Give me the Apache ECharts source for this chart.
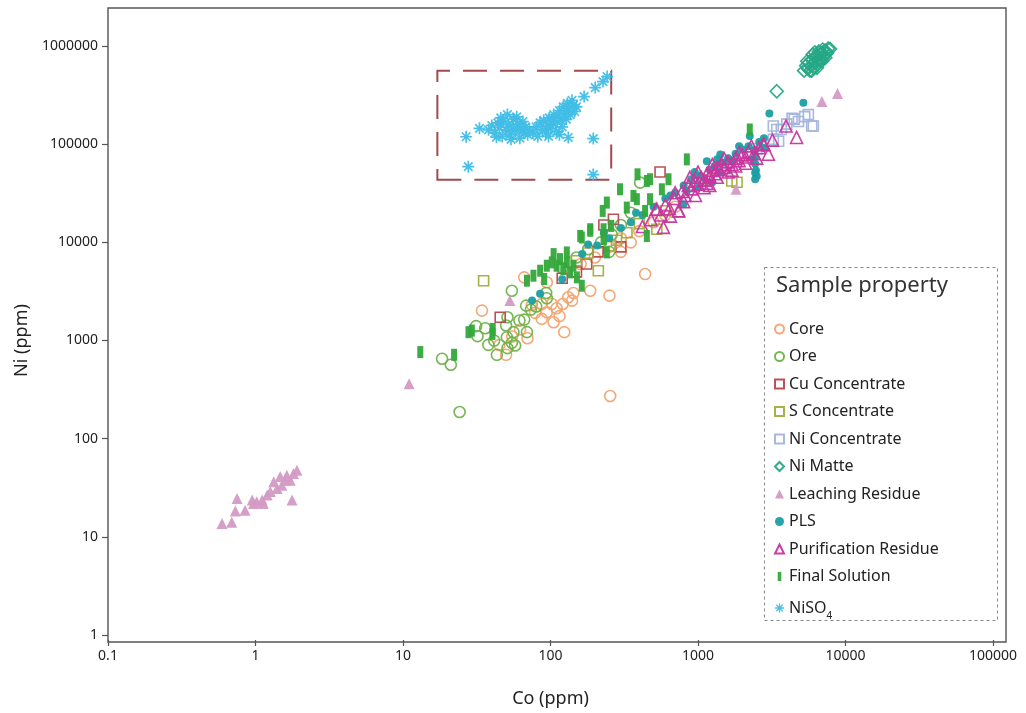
<!DOCTYPE html>
<html>
<head>
<meta charset="utf-8">
<script src="https://cdn.jsdelivr.net/npm/echarts@6/dist/echarts.min.js"></script>
<style>
  html, body { margin: 0; padding: 0; background: #fff; }
  #chart { width: 1026px; height: 713px; }
</style>
</head>
<body>
<div id="chart"></div>
<script>
// Co vs Ni (ppm) by sample property, both axes logarithmic
const xTicks = ['0.1', '1', '10', '100', '1000', '10000', '100000'];
const yTicks = ['1', '10', '100', '1000', '10000', '100000', '1000000'];

const seriesNames = ['Core', 'Ore', 'Cu Concentrate', 'S Concentrate', 'Ni Concentrate', 'Ni Matte',
  'Leaching Residue', 'PLS', 'Purification Residue', 'Final Solution', 'NiSO4'];

// [Co, Ni] pairs
const core = [
  [254, 272], [124, 1216], [105, 1535], [87.3, 1660], [69.8, 1056], [50, 715], [34.3, 2016], [78.7, 1910],
  [94.4, 1941], [110, 2133], [121, 2356], [132, 2756], [143, 3048], [115, 1771], [102, 2356], [186, 3213],
  [251, 2864], [438, 4751], [66.3, 4399], [94.4, 3918], [74.8, 2302], [62.2, 1294], [87.3, 2356], [140, 2547],
  [160, 6000], [200, 7000], [250, 9000], [300, 11000], [350, 10000], [400, 13000], [500, 16000], [600, 19000],
  [700, 23000], [300, 8000], [55, 1100], [45, 900]
];
const ore = [
  [24.2, 187], [18.4, 651], [21.1, 566], [32, 1107], [31.3, 1400], [37.9, 903], [43.3, 715], [41.5, 998],
  [50.6, 1081], [50, 1420], [51.1, 1727], [54.7, 946], [57.6, 889], [51.1, 836], [56.1, 1216], [61.6, 1596],
  [69.2, 1216], [66.3, 1633], [68.4, 2265], [54.7, 3213], [73.6, 2064], [94.4, 2691], [80, 2218], [93.5, 3048],
  [36.1, 1334], [405, 40600], [120, 5500], [150, 7000], [180, 8500], [220, 10000], [260, 12000], [300, 15000],
  [350, 20000], [250, 8000]
];
const cuConc = [
  [45.6, 1727], [176, 6010], [267, 17200], [553, 52000], [230, 15000], [300, 9000], [210, 8000], [150, 5000],
  [120, 4300]
];
const sConc = [
  [35.2, 4064], [211, 5140], [254, 9200], [526, 13600], [1694, 42200], [150, 6500], [180, 7800], [280, 10500],
  [330, 12500], [400, 15500], [600, 21000], [1170, 42900], [1840, 40900]
];
const niConc = [
  [6053, 153000], [5600, 200000], [4340, 183000], [3520, 107000], [3670, 141000], [3240, 153000],
  [5900, 153000], [5290, 191000], [4490, 180000], [3420, 141000], [3240, 112000], [1500, 60000],
  [2000, 75000], [1000, 45000], [2500, 90000], [4000, 160000], [4800, 170000]
];
const niMatte = [
  [5240, 561000], [5410, 631000], [5570, 588000], [5660, 677000], [5840, 631000], [5930, 726000],
  [6030, 661000], [6220, 761000], [6310, 692000], [6410, 797000], [6520, 726000], [6720, 816000],
  [6820, 743000], [6930, 855000], [7150, 797000], [7260, 896000], [7380, 835000], [7620, 939000],
  [6620, 677000], [6120, 602000], [5750, 561000], [7040, 761000], [7500, 855000], [7860, 933000],
  [5500, 700000], [6000, 820000], [6600, 880000], [5900, 560000], [6900, 700000], [7300, 760000],
  [6400, 600000], [7000, 920000], [6200, 860000],
  [8730, 1050000], [3420, 346000]
];
const leaching = [
  [0.593, 13.7], [0.69, 14.1], [0.75, 24.6], [0.73, 18.3], [0.85, 18.7], [0.95, 23.7], [1.02, 22.8],
  [1.11, 23.7], [1.2, 26.6], [1.26, 29], [1.33, 36.4], [1.4, 31.1], [1.51, 33.6], [1.59, 37.8], [1.63, 42.5],
  [1.72, 37.8], [1.77, 23.7], [1.91, 47.8], [1.81, 44.2], [1.47, 41.2], [1.13, 21.9], [0.97, 21.9],
  [11, 363], [53, 2550], [1810, 34700], [6920, 272000], [8830, 328000]
];
const pls = [
  [75, 2550], [85, 2990], [120, 4200], [164, 7590], [207, 9290], [250, 11000], [300, 14000], [350, 16000],
  [420, 19000], [500, 23000], [600, 28000], [700, 32000], [800, 38000], [900, 44000], [1000, 48000],
  [1100, 45000], [1200, 55000], [1300, 60000], [1400, 52000], [1500, 65000], [1600, 72000], [1800, 80000],
  [2000, 88000], [2200, 95000], [2440, 88000], [2440, 75000], [2440, 63000], [2470, 54000], [2500, 47000],
  [2440, 44000], [2600, 105000], [3048, 205000], [5180, 264000], [2800, 115000], [1700, 68000],
  [1000, 36000], [1250, 41000], [1416, 78700], [1148, 67000], [840, 33400], [796, 24400], [2244, 121000],
  [2780, 92000], [2360, 70000], [2440, 51000], [650, 30000], [950, 52000], [1350, 70000], [1900, 95000],
  [180, 9500], [230, 12500], [380, 20000]
];
const purification = [
  [420, 14500], [480, 17000], [520, 21700], [560, 19000], [600, 24000], [640, 22000], [690, 28000],
  [740, 21000], [780, 33000], [820, 30000], [860, 38000], [900, 35000], [950, 42000], [1000, 39000],
  [1050, 46000], [1100, 43000], [1150, 50000], [1200, 47000], [1250, 54000], [1300, 50000], [1350, 58000],
  [1400, 55000], [1450, 62000], [1500, 58000], [1600, 66000], [1700, 62000], [1800, 72000], [1900, 68000],
  [2000, 78000], [2100, 74000], [2200, 84000], [2400, 80000], [2600, 92000], [2800, 99000], [3000, 79000],
  [3950, 153000], [4660, 117000], [800, 26000], [1100, 36000], [1600, 52000], [650, 18500], [583, 14200],
  [526, 21700], [737, 20900], [2773, 99400],
  [880, 46000], [1000, 52000], [1150, 40000], [1250, 62000], [1350, 46000], [1500, 72000], [1700, 54000],
  [1900, 82000], [2100, 64000], [2300, 96000], [700, 32000], [960, 30000], [1200, 38000], [1800, 60000],
  [2500, 72000], [3200, 110000]
];
const finalSolution = [
  [13.1, 762], [22.2, 715], [27.8, 1216], [29.3, 1262], [40.6, 1312], [40.4, 1167], [69.2, 4064],
  [85.1, 5140], [94.4, 5780], [102, 6250], [110, 5780], [116, 6750], [122, 5340], [129, 6250], [136, 4940],
  [143, 5780], [151, 4400], [163, 3613], [90.6, 4230], [76.6, 4570], [159, 11600], [186, 13600], [229, 10800],
  [241, 7890], [105, 7590], [129, 7890], [163, 11200], [186, 13100], [229, 13600], [226, 20900], [258, 14700],
  [296, 34700], [241, 25400], [329, 22600], [389, 49300], [450, 42200], [473, 43900], [365, 29700],
  [385, 27500], [438, 20900], [473, 27500], [569, 34700], [631, 43900], [840, 70000], [450, 11600],
  [2244, 141000]
];
const niso4 = [
  [26.8, 119000], [27.7, 59000], [33, 145000],
  [38, 140000], [40, 155000], [42, 130000], [44, 165000], [45, 148000], [47, 120000], [48, 172000],
  [50, 140000], [52, 158000], [53, 125000], [55, 150000], [56, 180000], [58, 135000], [60, 160000],
  [62, 115000], [63, 145000], [65, 170000], [66, 130000], [68, 150000], [70, 125000], [72, 140000],
  [46, 185000], [54, 112000], [59, 190000], [43, 118000], [51, 200000],
  [76, 130000], [80, 150000], [82, 120000], [85, 165000], [88, 140000], [90, 175000], [93, 130000],
  [95, 155000], [98, 185000], [100, 145000], [103, 170000], [105, 200000], [108, 160000], [110, 135000],
  [112, 190000], [115, 220000], [118, 175000], [120, 150000], [122, 240000], [125, 205000], [128, 180000],
  [130, 260000], [133, 230000], [136, 200000], [140, 280000], [143, 250000], [146, 215000], [150, 240000],
  [97, 120000], [115, 125000],
  [132, 117000], [195, 114000], [195, 49000], [169, 305000], [201, 377000], [227, 434000], [242, 488000]
];
// outline of the NiSO4 group: [Co, Ni] corners
const niso4Box = [[17.1, 43500], [258, 560000]];

const colors = {
  core: '#f2a470', ore: '#6fb24a', cu: '#b8474c', s: '#a3ad3c', niConc: '#a4b4dc', matte: '#26a886',
  leach: '#d39ac4', pls: '#1c9fa3', purif: '#c8359f', fin: '#33a83b', niso4: '#3fbde6'
};

// eight-armed asterisk built from four thin bars
function asteriskPath() {
  const L = 10, w = 1.4, parts = [];
  [0, 45, 90, 135].forEach(a => {
    const t = a * Math.PI / 180, dx = Math.cos(t), dy = Math.sin(t), nx = -dy, ny = dx;
    const p = [[L * dx + w * nx, L * dy + w * ny], [L * dx - w * nx, L * dy - w * ny],
               [-L * dx - w * nx, -L * dy - w * ny], [-L * dx + w * nx, -L * dy + w * ny]];
    parts.push('M' + p.map(q => q[0].toFixed(2) + ',' + q[1].toFixed(2)).join(' L') + ' Z');
  });
  return 'path://' + parts.join(' ');
}
const ASTERISK = asteriskPath();

const font = 'Noto Sans';
const hollow = (c, w) => ({ color: 'rgba(255,255,255,0)', borderColor: c, borderWidth: w || 1.6, opacity: 0.95 });
const filled = c => ({ color: c, opacity: 0.95 });

function sc(name, data, symbol, size, itemStyle, extra) {
  return Object.assign({
    name, type: 'scatter', xAxisIndex: 1, yAxisIndex: 1, data, symbol, symbolSize: size,
    itemStyle, emphasis: { disabled: true }, animation: false
  }, extra || {});
}

const series = [
  sc('Core', core, 'circle', 11, hollow(colors.core)),
  sc('Ore', ore, 'circle', 11, hollow(colors.ore)),
  sc('Cu Concentrate', cuConc, 'rect', 10, hollow(colors.cu)),
  sc('S Concentrate', sConc, 'rect', 10, hollow(colors.s)),
  sc('Ni Concentrate', niConc, 'rect', 10, hollow(colors.niConc)),
  sc('Ni Matte', niMatte, 'diamond', 13, hollow(colors.matte)),
  sc('Leaching Residue', leaching, 'triangle', 11, filled(colors.leach)),
  sc('PLS', pls, 'circle', 8, filled(colors.pls)),
  sc('Purification Residue', purification, 'triangle', 12, hollow(colors.purif)),
  sc('Final Solution', finalSolution, 'rect', [6, 12], filled(colors.fin)),
  sc('NiSO4', niso4, ASTERISK, 12, filled(colors.niso4), {
    markArea: {
      silent: true,
      itemStyle: { color: 'rgba(0,0,0,0)', borderColor: '#a24a4e', borderWidth: 2, borderType: [24, 13] },
      data: [[{ coord: niso4Box[0] }, { coord: niso4Box[1] }]]
    }
  })
];

const legendData = seriesNames.map(n => n === 'Final Solution'
  ? { name: n, icon: 'path://M0,0 L4,0 L4,10 L0,10 Z' }
  : { name: n });

const chart = echarts.init(document.getElementById('chart'), null, { renderer: 'canvas' });
const tickLabel = v => String(+Number(v).toPrecision(6));
chart.setOption({
  backgroundColor: '#fff',
  textStyle: { fontFamily: font },
  title: {
    text: 'Sample property', left: 771, top: 270,
    textStyle: { fontFamily: font, fontSize: 22, fontWeight: 'normal', color: '#333' }
  },
  legend: {
    orient: 'vertical', left: 769, top: 315, itemWidth: 9, itemHeight: 9, itemGap: 9.5,
    data: legendData, selectedMode: false,
    textStyle: {
      fontFamily: font, fontSize: 16, color: '#222', lineHeight: 18,
      rich: { sub: { fontFamily: font, fontSize: 10, verticalAlign: 'bottom', lineHeight: 26 } }
    },
    formatter: n => n === 'NiSO4' ? 'NiSO{sub|4}' : n
  },
  graphic: [{
    type: 'rect', left: 762, top: 265, silent: true,
    shape: { width: 233, height: 353 },
    style: { fill: 'none', stroke: '#8a8a8a', lineWidth: 1, lineDash: [3, 3] }
  }],
  grid: [
    { left: 108, right: 20, top: 8, bottom: 71, show: true, borderColor: '#555', borderWidth: 1.4, backgroundColor: 'rgba(0,0,0,0)' },
    { left: 108, right: 33, top: 46, bottom: 76 }
  ],
  xAxis: [
    { gridIndex: 0, type: 'value', show: false, min: 0, max: 1 },
    {
      gridIndex: 1, type: 'log', logBase: 10, min: 0.1, max: 100000, splitNumber: 6, offset: 5,
      name: 'Co (ppm)', nameLocation: 'middle', nameGap: 50,
      nameTextStyle: { fontFamily: font, fontSize: 18, color: '#222' },
      axisLine: { show: false },
      axisTick: { show: true, length: 6, lineStyle: { color: '#555', width: 1.2 } },
      minorTick: { show: false }, splitLine: { show: false },
      axisLabel: { fontFamily: font, fontSize: 14, color: '#222', margin: 9, formatter: tickLabel }
    }
  ],
  yAxis: [
    { gridIndex: 0, type: 'value', show: false, min: 0, max: 1 },
    {
      gridIndex: 1, type: 'log', logBase: 10, min: 1, max: 1000000, splitNumber: 6,
      name: 'Ni (ppm)', nameLocation: 'middle', nameGap: 76,
      nameTextStyle: { fontFamily: font, fontSize: 18, color: '#222' },
      axisLine: { show: false },
      axisTick: { show: true, length: 6, lineStyle: { color: '#555', width: 1.2 } },
      minorTick: { show: false }, splitLine: { show: false },
      axisLabel: { fontFamily: font, fontSize: 14, color: '#222', margin: 10, formatter: tickLabel }
    }
  ],
  series
});
</script>
</body>
</html>
